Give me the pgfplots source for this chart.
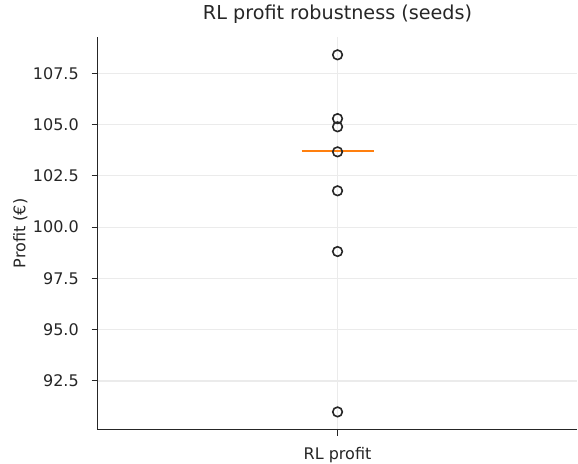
\documentclass[border=0pt]{standalone}
\usepackage{pgfplots}
\pgfplotsset{compat=1.18}
\usepackage{fontspec}
\setmainfont{DejaVu Sans}
\definecolor{gridc}{HTML}{EBEBEB}
\definecolor{axc}{HTML}{262626}
\definecolor{med}{HTML}{FF7F0E}
\begin{document}
\begin{tikzpicture}
\begin{axis}[
  at={(0,0)}, anchor=south west,
  scale only axis,
  width=360pt, height=294.75pt,
  xmin=0.5, xmax=1.5,
  ymin=90.12, ymax=109.27,
  axis x line*=bottom, axis y line*=left,
  axis line style={axc, line width=0.9pt, -},
  xtick={1}, xticklabels={RL profit},
  ytick={92.5,95,97.5,100,102.5,105,107.5},
  /pgf/number format/.cd, fixed, fixed zerofill, precision=1, assume math mode=true,
  /pgfplots/.cd,
  tick style={axc, line width=0.8pt},
  major tick length=4.5pt,
  tick align=outside,
  ticklabel style={font=\fontsize{12}{14}\selectfont, text=axc},
  yticklabel style={inner sep=0pt, anchor=east, xshift=-9.5pt},
  xticklabel style={inner sep=0pt, anchor=base, yshift=-18pt},
  grid=major,
  major grid style={gridc, line width=0.9pt},
  ylabel={Profit (€)},
  every axis y label/.style={at={(rel axis cs:0,0.5)}, rotate=90, anchor=center, yshift=58pt, font=\fontsize{12}{14}\selectfont, text=axc},
  title={RL profit robustness (seeds)},
  title style={font=\fontsize{14.4}{17}\selectfont, text=axc, at={(0.5,1)}, anchor=base, yshift=7.3pt},
  clip=false,
]
\addplot[med, line width=1.5pt, no marks] coordinates {(0.925,103.73) (1.075,103.73)};
\addplot[only marks, mark=o, mark size=3.6pt, mark options={axc, line width=1.2pt}] coordinates {
(1,108.40) (1,105.29) (1,104.89) (1,103.67) (1,101.77) (1,98.81) (1,90.99)};
\end{axis}
\path[use as bounding box] (-73.3pt,-21.75pt) rectangle (360.2pt,322.5pt);
\end{tikzpicture}
\end{document}
